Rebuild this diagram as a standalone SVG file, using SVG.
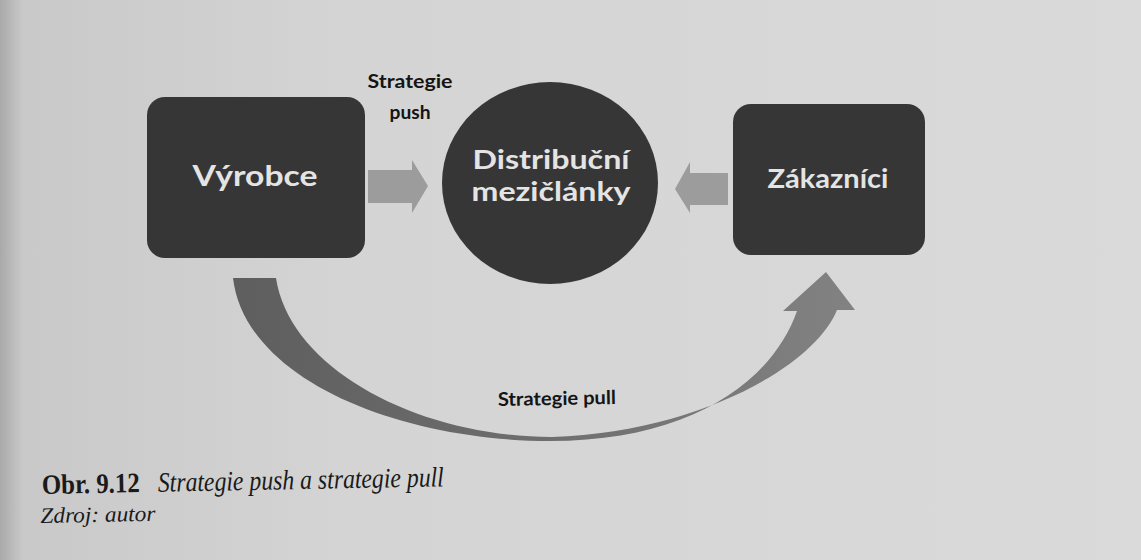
<svg xmlns="http://www.w3.org/2000/svg" width="1141" height="560" viewBox="0 0 1141 560">
  <defs>
    <linearGradient id="bg" x1="0" y1="0" x2="1" y2="0">
      <stop offset="0" stop-color="#a9a9a9"/>
      <stop offset="0.02" stop-color="#c9c9c9"/>
      <stop offset="0.3" stop-color="#d4d4d4"/>
      <stop offset="1" stop-color="#dadada"/>
    </linearGradient>
    <linearGradient id="curveGrad" x1="0" y1="0" x2="1" y2="0">
      <stop offset="0" stop-color="#5e5e5e"/>
      <stop offset="0.5" stop-color="#6e6e6e"/>
      <stop offset="1" stop-color="#828282"/>
    </linearGradient>
    <style>
      .node { fill: #363636; }
      .nodeText { font-family: Lato, "Open Sans", "Liberation Sans", sans-serif; font-weight: bold; fill: #e4e4e4; text-anchor: middle; }
      .label { font-family: Lato, "Open Sans", "Liberation Sans", sans-serif; font-weight: bold; fill: #141414; text-anchor: middle; }
      .arrow { fill: #9c9c9c; }
      .cap { font-family: "Liberation Serif", serif; fill: #1a1a1a; }
    </style>
  </defs>
  <rect x="0" y="0" width="1141" height="560" fill="url(#bg)"/>

  <g id="connectors">
    <g id="push-arrow">
      <polygon class="arrow" points="368,170 412,170 412,160 428,186 412,213 412,203 368,203"/>
    </g>
    <g id="pull-arrow-in">
      <polygon class="arrow" points="728,173 690,173 690,162 675,189 690,213 690,205 728,205"/>
    </g>
    <g id="pull-curve">
      <path fill="url(#curveGrad)" d="M233,278 C245,380 400,441 550,441 C690,441 772,382 797,311 L783,311 L826,272 L855,310 L837,310 C815,365 700,432 552,437 C420,437 290,370 276,278 Z"/>
    </g>
    <text class="label" x="410" y="88" font-size="19" textLength="85" lengthAdjust="spacingAndGlyphs">Strategie</text>
    <text class="label" x="410" y="119" font-size="19" textLength="41" lengthAdjust="spacingAndGlyphs">push</text>
    <text class="label" x="557" y="405" font-size="19" textLength="118" lengthAdjust="spacingAndGlyphs" transform="rotate(-1 557 405)">Strategie pull</text>
  </g>

  <g id="node-vyrobce">
    <rect class="node" x="147" y="97" width="218" height="161" rx="18"/>
    <text class="nodeText" x="255" y="186" font-size="29" textLength="125" lengthAdjust="spacingAndGlyphs">Výrobce</text>
  </g>

  <g id="node-distribucni">
    <ellipse class="node" cx="550" cy="183" rx="108" ry="101"/>
    <text class="nodeText" x="551" y="169" font-size="27" textLength="157" lengthAdjust="spacingAndGlyphs">Distribuční</text>
    <text class="nodeText" x="551" y="201" font-size="27" textLength="159" lengthAdjust="spacingAndGlyphs">mezičlánky</text>
  </g>

  <g id="node-zakaznici">
    <rect class="node" x="733" y="104" width="192" height="151" rx="18"/>
    <text class="nodeText" x="828" y="188" font-size="27" textLength="121" lengthAdjust="spacingAndGlyphs">Zákazníci</text>
  </g>

  <g id="caption" transform="rotate(-1.1 42 494)">
    <text class="cap" x="42" y="494" font-size="28" font-weight="bold" textLength="98" lengthAdjust="spacingAndGlyphs">Obr. 9.12</text>
    <text class="cap" x="158" y="494" font-size="28" font-style="italic" textLength="286" lengthAdjust="spacingAndGlyphs">Strategie push a strategie pull</text>
    <text class="cap" x="40" y="523" font-size="22" font-style="italic" textLength="115" lengthAdjust="spacingAndGlyphs">Zdroj: autor</text>
  </g>
</svg>
